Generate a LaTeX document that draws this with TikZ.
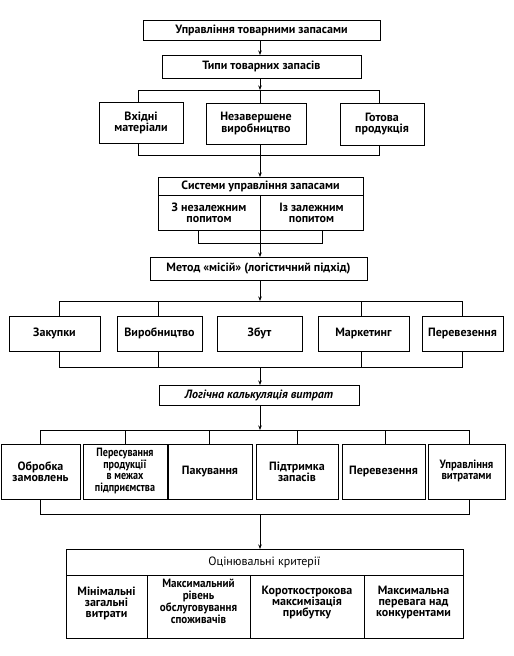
\documentclass[tikz,border=0pt]{standalone}
\usepackage{fontspec}
\setmainfont{PT Sans}
\usetikzlibrary{arrows.meta}
\newcommand{\narrowtext}[2]{\scalebox{#1}[1]{\begin{tabular}{@{}c@{}}#2\end{tabular}}}
\begin{document}
\begin{tikzpicture}[x=1pt,y=-1pt,
  bx/.style={draw, line width=1pt, inner sep=0pt, align=center, font=\bfseries\fontsize{12}{11}\selectfont},
  ln/.style={line width=0.9pt},
  ar/.style={line width=0.9pt, -{Stealth[length=4.5pt,width=3.5pt]}},
  txt/.style={inner sep=0pt, align=center, font=\bfseries\fontsize{12}{11}\selectfont}]
\useasboundingbox (0,0) rectangle (514,656);
\fill[white] (0,0) rectangle (514,656);
% top
\node[bx, minimum width=237pt, minimum height=20pt] (b1) at (261.5,30) {Управління товарними запасами};
\node[bx, minimum width=199pt, minimum height=23pt] (b2) at (261.5,66.5) {Типи товарних запасів};
\node[bx, minimum width=84pt, minimum height=41pt] (v1) at (141,122.5) {Вхідні\\матеріали};
\node[bx, minimum width=100pt, minimum height=41pt] (v2) at (256,123.5) {Незавершене\\виробництво};
\node[bx, minimum width=84pt, minimum height=42pt] (v3) at (382,124) {Готова\\продукція};
\coordinate (t1) at (260,90);
\coordinate (t2) at (260,155);
\draw[ar] (260,40) -- (260,55);
\draw[ar] (260,78) -- (t1);
\draw[ln] (138,102) -- (138,90) -- (379,90) -- (379,103);
\draw[ln] (t1) -- (260,103);
\draw[ln] (138,143) -- (138,155) -- (379,155) -- (379,145);
\draw[ln] (260,144) -- (t2);
% systems
\node[bx, minimum width=205pt, minimum height=53pt] (s) at (260.5,203.5) {};
\draw[line width=1pt] (158,195) -- (363,195);
\draw[line width=1pt] (260,195) -- (260,230);
\node[txt] (st) at (260.5,186) {Системи управління запасами};
\node[txt] (sl) at (209,212.5) {З незалежним\\попитом};
\node[txt] (sr) at (311.5,212.5) {Із залежним\\попитом};
\draw[ar] (t2) -- (260,177);
\draw[ln] (198,230) -- (198,243) -- (322,243) -- (322,230);
% method
\node[bx, minimum width=217pt, minimum height=23pt] (m) at (258.5,268.5) {Метод «місій» (логістичний підхід)};
\draw[ar] (260,230) -- (260,257);
\draw[ar] (260,280) -- (260,301);
\node[bx, minimum width=91pt, minimum height=35pt] (r1) at (54.5,333.5) {Закупки};
\node[bx, minimum width=85pt, minimum height=35pt] (r2) at (159.5,333.5) {Виробництво};
\node[bx, minimum width=85pt, minimum height=35pt] (r3) at (259.5,333.5) {Збут};
\node[bx, minimum width=91pt, minimum height=35pt] (r4) at (363.5,333.5) {Маркетинг};
\node[bx, minimum width=81pt, minimum height=35pt] (r5) at (462.5,333.5) {Перевезення};
\draw[ln] (59,316) -- (59,301) -- (462,301) -- (462,316);
\draw[ln] (158,301) -- (158,316);
\draw[ln] (361,301) -- (361,316);
\draw[ln] (59,351) -- (59,367) -- (462,367) -- (462,351);
\draw[ln] (158,351) -- (158,367);
\draw[ln] (361,351) -- (361,367);
% logistics costs
\node[bx, minimum width=200pt, minimum height=20pt] (l) at (259,395) {\itshape Логічна калькуляція витрат};
\draw[ar] (260,367) -- (260,385);
\draw[ar] (260,405) -- (260,430);
\node[bx, minimum width=79pt, minimum height=55pt] (c1) at (40.5,471.5) {Обробка\\замовлень};
\node[bx, minimum width=84pt, minimum height=55pt] (c2) at (125,471.5) {\narrowtext{0.84}{Пересування\\продукції\\в межах\\підприємства}};
\node[bx, minimum width=84pt, minimum height=55pt] (c3) at (210,471.5) {Пакування};
\node[bx, minimum width=82pt, minimum height=55pt] (c4) at (297,471.5) {Підтримка\\запасів};
\node[bx, minimum width=83pt, minimum height=55pt] (c5) at (383.5,471.5) {Перевезення};
\node[bx, minimum width=77pt, minimum height=55pt] (c6) at (466.5,471.5) {\narrowtext{0.9}{Управління\\витратами}};
\draw[ln] (40,444) -- (40,430) -- (469,430) -- (469,444);
\foreach \xx in {125,209,297,385} \draw[ln] (\xx,430) -- (\xx,444);
\draw[ln] (40,499) -- (40,514) -- (469,514) -- (469,499);
\draw[ar] (260,514) -- (260,549);
% criteria
\node[bx, minimum width=397pt, minimum height=89pt] (k) at (264.5,593.5) {};
\draw[line width=1pt] (66,575) -- (463,575);
\foreach \xx in {147,250,364} \draw[line width=1pt] (\xx,575) -- (\xx,638);
\node[txt, font=\mdseries\fontsize{12}{11}\selectfont] (kt) at (264.5,562) {Оцінювальні критерії};
\node[txt] (k1) at (106.5,603) {Мінімальні\\загальні\\витрати};
\node[txt] (k2) at (198.5,603) {\narrowtext{0.92}{Максимальний\\рівень\\обслуговування\\споживачів}};
\node[txt] (k3) at (307,603) {Короткострокова\\максимізація\\прибутку};
\node[txt] (k4) at (413.5,603) {Максимальна\\перевага над\\конкурентами};
\end{tikzpicture}
\end{document}
